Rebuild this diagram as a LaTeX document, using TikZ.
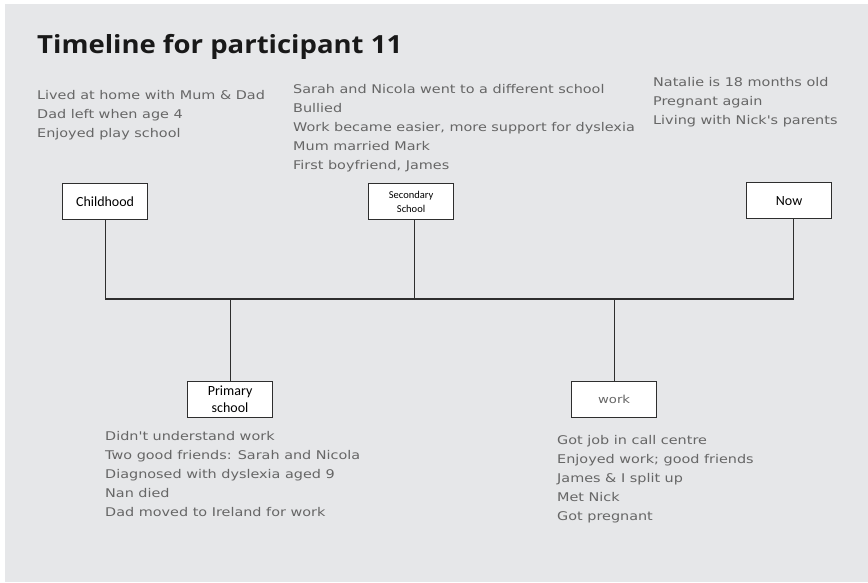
\documentclass[tikz,border=0pt]{standalone}
\usepackage{fontspec}
\setmainfont{Carlito}
\newfontfamily\handfont[FakeStretch=1.2]{DejaVu Sans}
\newfontfamily\titlefont[FakeStretch=1.1]{Open Sans}
\definecolor{bggrey}{HTML}{E6E7E9}
\definecolor{handgrey}{HTML}{666666}
\definecolor{linegrey}{HTML}{2E2E2E}
\begin{document}
\begin{tikzpicture}[x=1pt,y=-1pt,
  stage/.style={draw=linegrey,line width=1.2pt,fill=white,minimum width=85pt,minimum height=36pt,inner sep=0pt,align=center,anchor=north west},
  notes/.style={anchor=north west,align=left,text=handgrey,font=\handfont\fontsize{12}{19}\selectfont,inner sep=0pt},
  conn/.style={draw=linegrey,line width=1.2pt}]
\useasboundingbox (0,0) rectangle (868,582);
\fill[white] (0,0) rectangle (868,582);
\fill[bggrey] (5,4) rectangle (868,582);
\node[anchor=west,inner sep=0pt,font=\titlefont\bfseries\fontsize{25}{28}\selectfont,text=black!90] (title) at (37,47) {Timeline for participant 11};
\node[notes] (tchild) at (37,90) {Lived at home with Mum \& Dad\\Dad left when age 4\\Enjoyed play school};
\node[notes] (tsec) at (293,84) {Sarah and Nicola went to a different school\\Bullied\\Work became easier, more support for dyslexia\\Mum married Mark\\First boyfriend, James};
\node[notes] (tnow) at (653,77) {Natalie is 18 months old\\Pregnant again\\Living with Nick's parents};
\node[notes] (tprim) at (105,431) {Didn't understand work\\Two good friends: Sarah and Nicola\\Diagnosed with dyslexia aged 9\\Nan died\\Dad moved to Ireland for work};
\node[notes] (twork) at (557,435) {Got job in call centre\\Enjoyed work; good friends\\James \& I split up\\Met Nick\\Got pregnant};
\node[stage,font=\fontsize{14}{16}\selectfont] (child) at (62,183) {Childhood};
\node[stage,font=\fontsize{10.5}{14}\selectfont] (sec) at (368,183) {Secondary\\School};
\node[stage,font=\fontsize{14}{16}\selectfont] (now) at (746,182) {Now};
\node[stage,font=\fontsize{14}{17}\selectfont] (prim) at (187,381) {Primary\\school};
\node[stage,font=\handfont\fontsize{11}{13}\selectfont,text=handgrey] (work) at (571,381) {work};
\coordinate (jl) at (106,299);
\coordinate (nowfoot) at ([xshift=4.5pt]now.south);
\coordinate (secfoot) at ([xshift=3.5pt]sec.south);
\coordinate (jr) at (nowfoot |- jl);
\draw[conn] (child.south) -- (child.south |- jl) -- (jr) -- (nowfoot);
\draw[conn] (secfoot) -- (secfoot |- jl);
\draw[conn] (prim.north) -- (prim.north |- jl);
\draw[conn] (work.north) -- (work.north |- jl);
\end{tikzpicture}
\end{document}
